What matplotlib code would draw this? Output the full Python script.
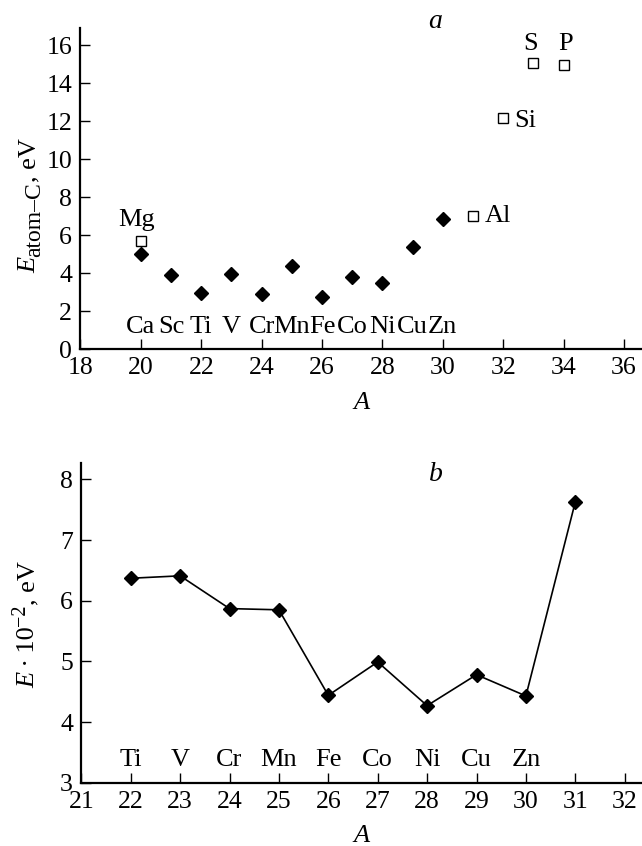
import matplotlib
matplotlib.use("Agg")
import matplotlib.pyplot as plt

SERIF = "Liberation Serif"
plt.rcParams['font.family'] = SERIF

# ---- Panel a data ----
tm_A = [20, 21, 22, 23, 24, 25, 26, 27, 28, 29, 30]
tm_names = ["Ca", "Sc", "Ti", "V", "Cr", "Mn", "Fe", "Co", "Ni", "Cu", "Zn"]
tm_E = [5.0, 3.92, 2.94, 3.94, 2.90, 4.35, 2.76, 3.80, 3.49, 5.37, 6.87]

sp_A = [20, 31, 32, 33, 34]
sp_names = ["Mg", "Al", "Si", "S", "P"]
sp_E = [5.66, 6.99, 12.15, 15.08, 14.93]

# ---- Panel b data ----
b_A = [22, 23, 24, 25, 26, 27, 28, 29, 30, 31]
b_names = ["Ti", "V", "Cr", "Mn", "Fe", "Co", "Ni", "Cu", "Zn"]
b_E = [6.37, 6.41, 5.87, 5.85, 4.44, 4.99, 4.27, 4.78, 4.43, 7.63]

FS_TICK = 18.5
FS = 19

fig = plt.figure(figsize=(6.42, 8.46), dpi=100)
W, H = 642, 846


def txt(ax, x, y, s, **kw):
    kw.setdefault("fontsize", FS)
    return ax.text(x, y, s, family=SERIF, **kw)


def style(ax):
    for s in ("top", "right"):
        ax.spines[s].set_visible(False)
    for s in ("left", "bottom"):
        ax.spines[s].set_linewidth(1.6)
    ax.tick_params(direction="in", length=7.5, width=1.0, labelsize=FS_TICK)
    ax.tick_params(axis="x", pad=6)
    ax.tick_params(axis="y", pad=6)
    for lab in ax.get_xticklabels() + ax.get_yticklabels():
        lab.set_family(SERIF)


def rotated_label(x_base, y_start, parts):
    """Compose a vertical (rotated 90 deg) label from pieces.
    parts: (text, fontsize, italic, dx) ; dx shifts the baseline (px, + = right)."""
    renderer = fig.canvas.get_renderer()
    y = y_start
    for s, fs, it, dx in parts:
        t = fig.text((x_base + dx) / W, 1 - y / H, s, rotation=90,
                     rotation_mode="anchor", ha="left", va="baseline",
                     fontsize=fs, family=SERIF,
                     style="italic" if it else "normal")
        ext = t.get_window_extent(renderer)
        y -= ext.height


# Panel a
axa = fig.add_axes([80.5 / W, 1 - 349 / H, (642 - 80.5) / W, (349 - 28) / H])
axa.plot(tm_A, tm_E, linestyle="none", marker="D", ms=7.6, color="black")
axa.plot(sp_A, sp_E, linestyle="none", marker="s", ms=7.5, mfc="white",
         mec="black", mew=1.0)
axa.set_xlim(18, 36.6)
axa.set_ylim(0, 16.9)
axa.set_xticks(range(18, 37, 2))
axa.set_yticks(range(0, 17, 2))
style(axa)
for x, n in zip(tm_A, tm_names):
    txt(axa, x, 0.85, n, ha="center", va="baseline")
txt(axa, 19.87, 6.5, sp_names[0], ha="center", va="baseline")
txt(axa, 31.4, sp_E[1], sp_names[1], ha="left", va="center")
txt(axa, 32.38, sp_E[2] - 0.15, sp_names[2], ha="left", va="center")
txt(axa, 32.92, 16.05, sp_names[3], ha="center", va="center")
txt(axa, 34.08, 16.05, sp_names[4], ha="center", va="center")
txt(axa, 29.74, 17.25, "a", ha="center", va="center", fontsize=FS + 1,
    style="italic", clip_on=False)
axa.set_xlabel("A", fontsize=FS, style="italic", family=SERIF)
axa.xaxis.set_label_coords(0.5, -0.134)
axa.xaxis.label.set_va("top")

# Panel b
axb = fig.add_axes([81.3 / W, 1 - 782.7 / H, (642 - 81.3) / W, (782.7 - 463) / H])
axb.plot(b_A, b_E, "-", color="black", lw=1.2, marker="D", ms=7.6)
axb.set_xlim(21, 32.35)
axb.set_ylim(3, 8.27)
axb.set_xticks(range(21, 33))
axb.set_yticks(range(3, 9))
style(axb)
for x, n in zip(b_A, b_names):
    txt(axb, x, 3.28, n, ha="center", va="baseline")
txt(axb, 28.18, 8.08, "b", ha="center", va="center", fontsize=FS + 1,
    style="italic", clip_on=False)
axb.set_xlabel("A", fontsize=FS, style="italic", family=SERIF)
axb.xaxis.set_label_coords(0.5, -0.132)
axb.xaxis.label.set_va("top")

# y labels composed from pieces
rotated_label(35, 273, [("E", FS, True, 0),
                        ("atom\u2013C", 17, False, 5),
                        (", eV", FS, False, 0)])
rotated_label(34, 688, [("E", FS, True, 0),
                        ("\u2009\u00b7\u200910", FS, False, 0),
                        ("\u22122", 14.5, False, -9),
                        (", eV", FS, False, 0)])

fig.savefig("out.png", dpi=100)
